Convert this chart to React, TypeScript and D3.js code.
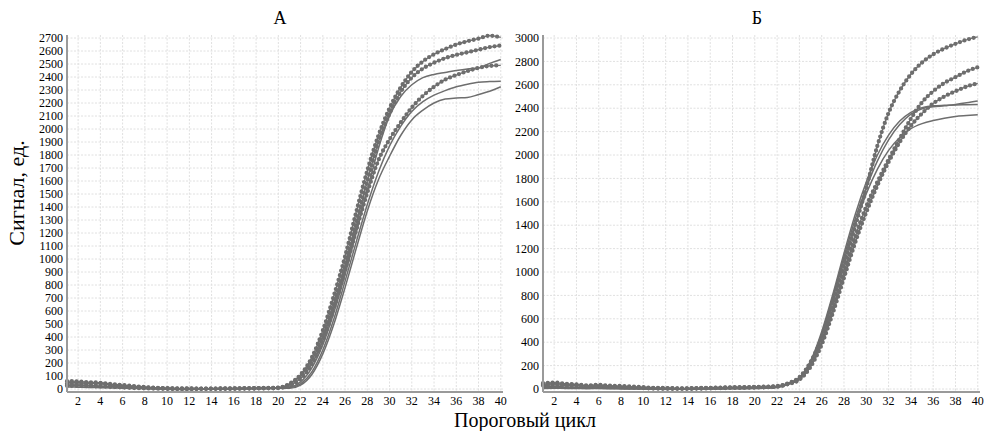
import * as d3 from "d3";

// cycles 1..40
const cycles = d3.range(1, 41);

// panel A
const leftDotted1 = [60, 58, 52, 48, 38, 30, 22, 15, 10, 6, 4, 4, 3, 3, 4, 5, 6, 7, 8, 10, 40, 110, 240, 450, 720, 1020, 1360, 1680, 1950, 2160, 2320, 2440, 2520, 2575, 2615, 2650, 2675, 2695, 2718, 2705];
const leftDotted2 = [40, 38, 40, 42, 30, 24, 18, 12, 8, 5, 3, 2, 2, 3, 3, 4, 5, 6, 7, 9, 35, 100, 220, 410, 660, 950, 1280, 1600, 1900, 2120, 2285, 2395, 2465, 2510, 2545, 2570, 2590, 2610, 2630, 2642];
const leftDotted3 = [25, 24, 22, 20, 16, 12, 8, 5, 3, 1, 0, 0, 1, 1, 2, 2, 3, 4, 5, 7, 25, 80, 190, 370, 620, 910, 1220, 1510, 1760, 1920, 2050, 2165, 2255, 2325, 2380, 2415, 2445, 2470, 2485, 2490];
const leftPlain1 = [50, 48, 45, 40, 32, 25, 18, 12, 7, 4, 2, 2, 2, 2, 3, 3, 4, 5, 6, 8, 15, 55, 160, 340, 590, 880, 1200, 1530, 1850, 2100, 2250, 2340, 2395, 2420, 2435, 2450, 2462, 2470, 2505, 2535];
const leftPlain2 = [15, 14, 12, 10, 8, 6, 4, 2, 0, -2, -3, -3, -2, -2, -1, 0, 1, 2, 3, 5, 10, 40, 130, 300, 540, 830, 1130, 1420, 1670, 1870, 2020, 2135, 2210, 2260, 2295, 2325, 2345, 2360, 2365, 2368];
const leftPlain3 = [30, 28, 26, 24, 20, 15, 10, 6, 2, 0, -2, -2, -1, -1, 0, 1, 2, 3, 4, 6, 5, 30, 110, 270, 500, 780, 1080, 1370, 1610, 1790, 1950, 2070, 2145, 2200, 2230, 2238, 2242, 2265, 2290, 2325];

// panel Б
const rightDotted1 = [50, 55, 45, 40, 30, 35, 28, 25, 20, 15, 10, 8, 6, 6, 8, 10, 12, 15, 15, 18, 20, 25, 50, 100, 230, 440, 740, 1060, 1390, 1720, 2080, 2360, 2550, 2690, 2790, 2860, 2910, 2950, 2985, 3010];
const rightDotted2 = [40, 45, 38, 35, 25, 28, 22, 20, 15, 10, 6, 5, 4, 4, 6, 8, 10, 12, 13, 15, 18, 22, 45, 85, 200, 400, 680, 990, 1300, 1560, 1770, 1960, 2140, 2310, 2450, 2545, 2615, 2665, 2715, 2750];
const rightDotted3 = [30, 35, 30, 28, 20, 22, 18, 15, 12, 8, 5, 3, 3, 3, 4, 6, 8, 10, 11, 13, 15, 20, 42, 80, 190, 380, 650, 950, 1250, 1510, 1740, 1940, 2110, 2250, 2355, 2440, 2500, 2545, 2585, 2612];
const rightPlain1 = [20, 22, 18, 16, 12, 14, 10, 8, 6, 4, 2, 1, 1, 1, 2, 3, 5, 6, 8, 10, 12, 18, 45, 90, 230, 470, 790, 1130, 1450, 1720, 1950, 2130, 2260, 2350, 2395, 2412, 2420, 2432, 2446, 2462];
const rightPlain2 = [10, 12, 10, 8, 6, 8, 5, 4, 2, 1, 0, 0, 0, 0, 1, 2, 3, 4, 5, 6, 8, 15, 42, 92, 240, 490, 810, 1160, 1490, 1770, 2000, 2170, 2290, 2365, 2405, 2420, 2425, 2428, 2430, 2432];
const rightPlain3 = [5, 6, 5, 4, 3, 4, 2, 1, 0, 0, -2, -2, -2, -2, -1, 0, 1, 2, 3, 4, 6, 12, 40, 88, 225, 460, 770, 1100, 1410, 1670, 1880, 2040, 2150, 2225, 2268, 2295, 2315, 2330, 2338, 2345];

const xTicks = d3.range(2, 41, 2);
const leftYTicks = d3.range(0, 2701, 100);
const rightYTicks = d3.range(0, 3001, 200);

const W = 984;
const H = 431;
const lineColor = "#6e6e6e";
const serif = "'Liberation Serif', 'DejaVu Serif', serif";

type PanelProps = {
  title: string;
  titleX: number;
  x0: number;
  x1: number;
  yMax: number;
  yTicks: number[];
  dotted: number[][];
  plain: number[][];
};

function Panel({ title, titleX, x0, x1, yMax, yTicks, dotted, plain }: PanelProps) {
  const top = 38;
  const zeroY = 389;
  const bottom = 392;
  const x = d3.scaleLinear().domain([1, 40.2]).range([x0, x1]);
  const y = d3.scaleLinear().domain([0, yMax]).range([zeroY, top]);
  const line = d3
    .line<number>()
    .x((_, i) => x(cycles[i]))
    .y((d) => y(d))
    .curve(d3.curveMonotoneX);

  return (
    <g>
      <text x={titleX} y={24} textAnchor="middle" fontFamily={serif} fontSize={18}>
        {title}
      </text>
      {yTicks.map((t) => (
        <line key={"h" + t} x1={x0} x2={x1} y1={y(t)} y2={y(t)} stroke="#e0e0e0" strokeDasharray="2,1.5" strokeWidth={1} />
      ))}
      {xTicks.map((t) => (
        <line key={"v" + t} x1={x(t)} x2={x(t)} y1={top - 3} y2={bottom} stroke="#e0e0e0" strokeDasharray="2,1.5" strokeWidth={1} />
      ))}
      {plain.map((s, i) => (
        <path key={"p" + i} d={line(s) || ""} fill="none" stroke={lineColor} strokeWidth={1.5} />
      ))}
      {dotted.map((s, i) => (
        <g key={"d" + i}>
          <path d={line(s) || ""} fill="none" stroke={lineColor} strokeWidth={1.3} />
          <path d={line(s) || ""} fill="none" stroke={lineColor} strokeWidth={4.3} strokeLinecap="round" strokeDasharray="0,4.8" />
        </g>
      ))}
      <line x1={x0} x2={x0} y1={top - 3} y2={bottom} stroke="#9a9a9a" strokeWidth={2} />
      <line x1={x0} x2={x1} y1={bottom} y2={bottom} stroke="#9a9a9a" strokeWidth={2} />
      {yTicks.map((t) => (
        <text key={"yl" + t} x={x0 - 4} y={y(t)} dy="0.35em" textAnchor="end" fontFamily={serif} fontSize={12}>
          {t}
        </text>
      ))}
      {xTicks.map((t) => (
        <text key={"xl" + t} x={x(t)} y={405} textAnchor="middle" fontFamily={serif} fontSize={12}>
          {t}
        </text>
      ))}
    </g>
  );
}

export default function App() {
  return (
    <svg width={W} height={H} style={{ position: "absolute", left: 0, top: 0, background: "#fff" }}>
      <rect width={W} height={H} fill="#fff" />
      <Panel
        title="А"
        titleX={280}
        x0={67}
        x1={503}
        yMax={2700}
        yTicks={leftYTicks}
        dotted={[leftDotted1, leftDotted2, leftDotted3]}
        plain={[leftPlain1, leftPlain2, leftPlain3]}
      />
      <Panel
        title="Б"
        titleX={757}
        x0={543}
        x1={980}
        yMax={3000}
        yTicks={rightYTicks}
        dotted={[rightDotted1, rightDotted2, rightDotted3]}
        plain={[rightPlain1, rightPlain2, rightPlain3]}
      />
      <text transform="translate(24,193) rotate(-90)" textAnchor="middle" fontFamily={serif} fontSize={22}>
        Сигнал, ед.
      </text>
      <text x={525} y={427} textAnchor="middle" fontFamily={serif} fontSize={20}>
        Пороговый цикл
      </text>
    </svg>
  );
}
